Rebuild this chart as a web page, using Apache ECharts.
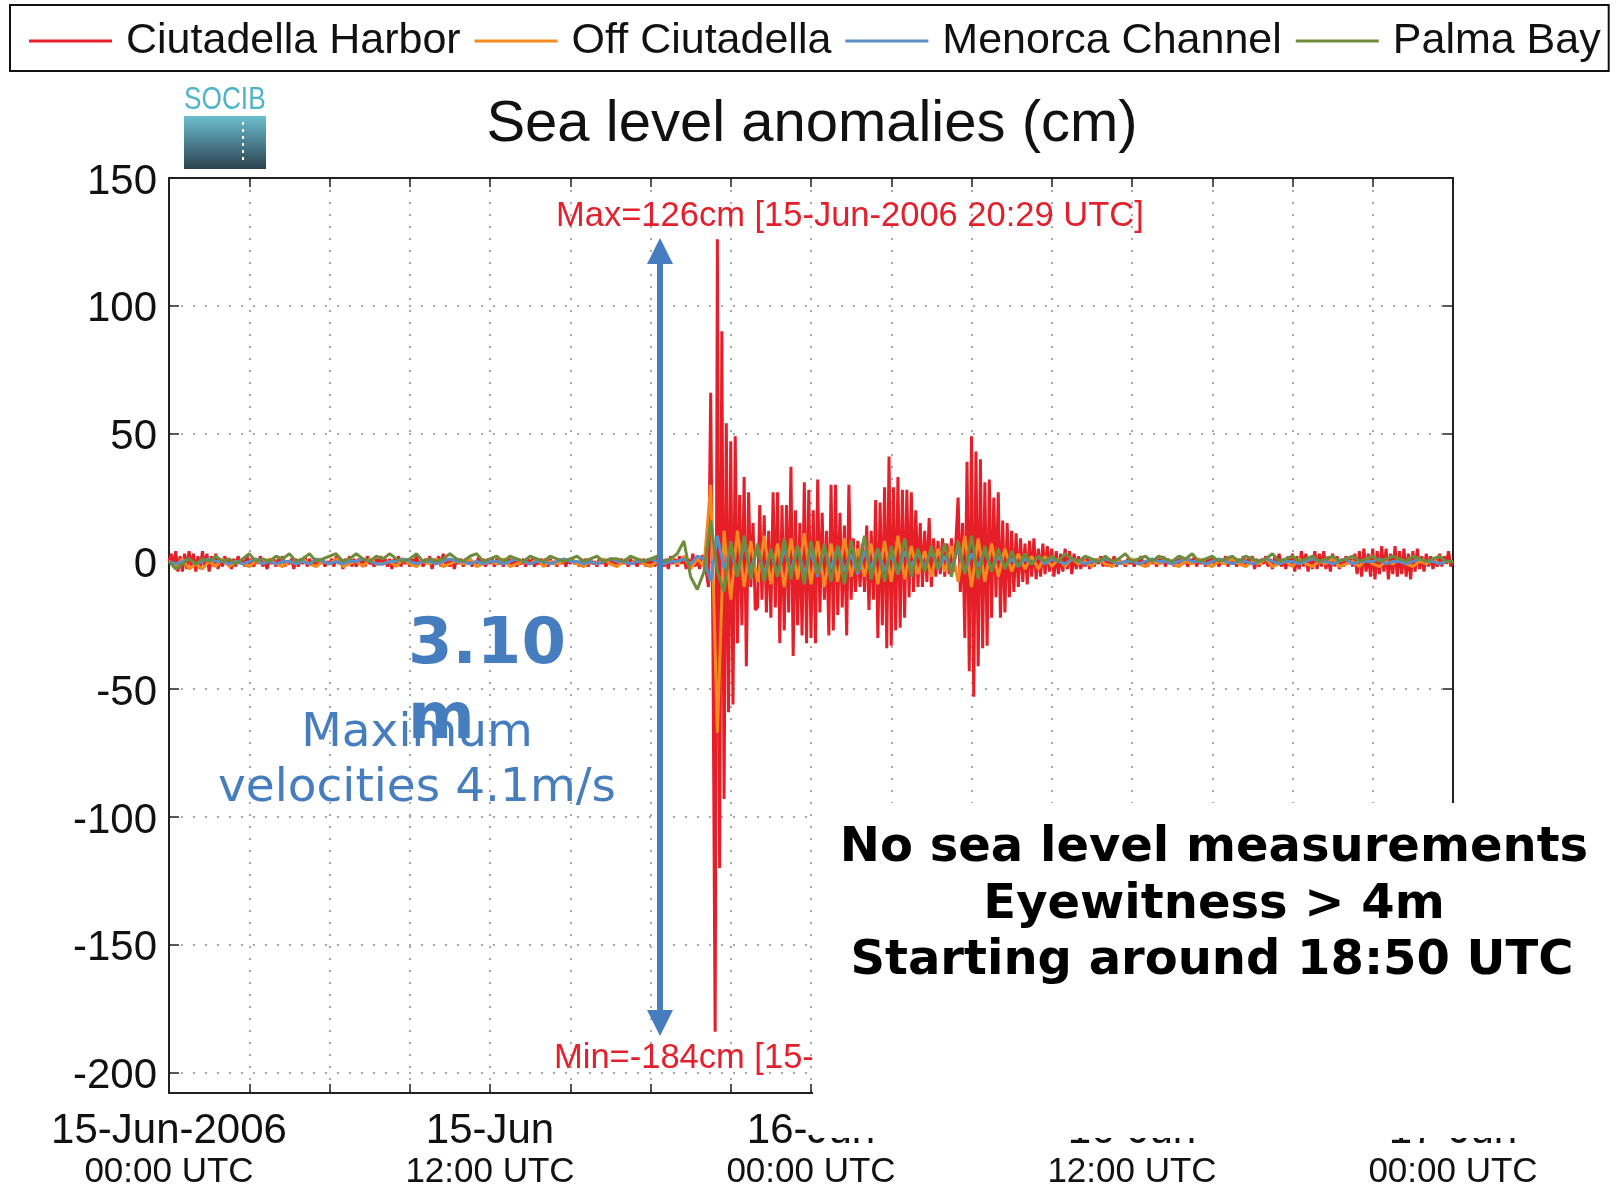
<!DOCTYPE html>
<html>
<head>
<meta charset="utf-8">
<script src="https://cdn.jsdelivr.net/npm/echarts@6/dist/echarts.min.js"></script>
<style>
  html, body { margin: 0; background: #fff; }
  #chart { width: 1624px; height: 1186px; }
</style>
</head>
<body>
<div id="chart"></div>
<script>
// hours since 15-Jun-2006 00:00 UTC
const seriesNames = ["Ciutadella Harbor", "Off Ciutadella", "Menorca Channel", "Palma Bay"];
const seriesColors = ["#e61e28", "#f3891f", "#5b8ec6", "#6e8c3c"];

// Ciutadella Harbor, one value every 5 minutes (cm)
const redStepMin = 5;
const ciutadellaHarbor = [
  0,3,-2,4,-4,2,-4,3,-3,4,-2,3,
  -4,2,-3,4,-2,3,-4,2,-2,3,-3,1,
  -2,2,-1,1,-3,1,-2,2,-1,1,-2,2,
  -1,1,-2,1,-1,2,-2,0,-3,1,-1,1,
  -2,1,-1,2,-2,0,-1,1,-3,1,-2,1,
  -1,2,-2,1,-1,0,-2,1,-1,1,-2,0,
  -1,1,-2,2,-1,1,-3,1,-1,2,-2,1,
  -2,1,-1,1,-2,2,-1,0,-2,1,-1,2,
  -1,1,-2,1,-3,1,-1,2,-2,1,-1,1,
  -2,1,-1,2,-1,0,-2,1,-1,2,-3,1,
  -1,2,-2,3,-1,1,-2,1,-3,1,-1,1,
  -2,1,-1,1,-2,0,-1,2,-1,1,-2,1,
  -1,1,-2,1,-1,0,-2,1,-1,1,-2,1,
  -2,0,-1,1,-2,1,-1,1,-2,0,-1,1,
  -1,1,-2,1,-1,0,-2,1,-1,1,-2,1,
  -1,1,-1,0,-2,1,-1,1,-2,1,-1,0,
  -2,1,-1,1,-2,0,-1,1,-2,1,-1,1,
  -1,1,-2,1,-1,0,-2,1,-1,1,-2,1,
  -1,1,-2,2,-1,1,-2,1,-3,2,-1,1,
  -2,2,-1,2,-3,1,-2,3,-2,1,-3,2,
  2,-4,-10,66,-30,-184,126,-120,90,-93,54,-59,
  47,-56,49,-32,26,-25,33,-41,27,-10,15,-19,
  -18,22,-15,18,-20,12,-22,27,-18,27,-32,22,
  -27,22,-20,37,-37,20,-25,15,-29,31,-32,28,
  -30,20,-32,32,-20,19,-15,12,-29,30,-27,30,
  -21,19,-18,14,-29,30,-15,9,-12,8,-10,7,
  -12,14,-19,12,-15,24,-30,23,-25,29,-34,41,
  -33,29,-27,33,-26,28,-22,28,-14,27,-12,20,
  -10,15,-10,12,-8,17,-10,9,-6,8,-5,9,
  -6,7,-5,9,-4,8,25,-12,15,-30,39,-43,
  49,-53,43,-41,40,-34,31,-33,32,-22,25,-14,
  27,-22,16,-20,15,-14,12,-12,11,-10,9,-8,
  7,-9,8,-6,9,-7,5,-6,7,-5,6,-4,
  5,-6,4,-5,3,-4,5,-3,4,-5,3,-3,
  2,-3,1,-2,2,-3,1,-2,1,-1,2,-2,
  1,-2,1,-1,2,-2,1,-1,0,-2,1,-1,
  1,-2,1,-1,2,-1,0,-2,1,-1,1,-2,
  1,-1,2,-2,1,-1,0,-2,1,-1,2,-1,
  1,-2,1,-1,2,-2,1,-1,1,-2,1,-1,
  2,-1,1,-2,1,-1,2,-2,1,-1,0,-2,
  1,-1,2,-2,1,-1,2,-3,1,-2,1,-1,
  2,-2,1,-3,2,-1,3,-2,1,-3,2,-2,
  3,-4,2,-3,4,-2,3,-4,2,-3,4,-3,
  3,-2,4,-3,2,-4,3,-2,2,-3,1,-2,
  2,-1,1,-2,3,-5,4,-6,5,-4,3,-6,
  5,-7,4,-5,6,-4,5,-7,3,-5,6,-6,
  4,-5,5,-6,3,-7,4,-4,5,-3,2,-4,
  3,-2,2,-3,1,-2,3,-2,2,-1,4,-2,
  0
];

// the other three stations, one value every 15 minutes (cm)
const otherStepMin = 15;
const offCiutadella = [
  0,-2,1,-3,  -1,-3,0,-2,  1,-2,0,-1,  -2,0,-1,1,  -1,-2,0,-1,  1,-1,-2,0,
  -1,1,-2,-1,  0,-2,1,-1,  -1,0,-2,1,  -1,-2,0,-1,  1,-2,-1,0,  -1,1,-2,-1,
  0,-1,1,-2,  -1,0,-1,1,  -2,0,-1,0,  1,-1,-2,0,  -1,1,-1,-2,  0,-1,1,-1,
  -2,0,-1,1,  -1,2,-3,1,  -2,30,-67,12,  -15,12,-10,8,  -8,10,-9,7,  -10,9,-7,11,
  -9,8,-10,7,  -8,9,-6,5,  -6,7,-9,8,  -8,10,-7,6,  -5,4,-6,5,  -4,6,-8,10,
  -10,9,-8,7,  -6,5,-4,3,  -3,2,-3,2,  -2,1,-2,1,  -1,0,-2,1,  -1,-2,0,-1,
  1,-1,-2,0,  -1,1,-1,-2,  0,-1,1,-1,  -2,0,-1,1,  -1,-2,0,-1,  1,-2,-1,0,
  -2,1,-1,-2,  0,-1,1,-2,  -1,0,-2,1,  -1,-2,0,-1,  1,-1,-2,0,  -1,1,-1,0,
  0
];
const menorcaChannel = [
  0,-1,0,1,  -1,0,1,0,  0,-1,0,-1,  0,1,-1,0,  -1,0,0,-1,  0,-1,1,0,
  -1,0,-1,0,  0,1,0,-1,  -1,0,0,1,  0,-1,0,0,  -1,0,1,0,  0,-1,0,-1,
  0,0,-1,0,  1,0,-1,0,  0,-1,0,1,  0,0,-1,0,  -1,0,1,0,  0,-1,0,0,
  1,0,-1,0,  0,1,-1,2,  1,-8,10,-3,  5,-6,7,-4,  6,-5,4,-6,  5,-4,6,-5,
  4,-6,5,-3,  6,-4,3,-5,  4,-3,5,-4,  3,-5,4,-2,  3,-2,4,-3,  2,-3,5,-4,
  3,-2,4,-3,  2,-2,1,-2,  1,-1,2,-1,  1,0,-1,1,  0,-1,0,0,  1,0,-1,0,
  0,-1,0,1,  0,0,-1,0,  1,0,0,-1,  0,1,0,-1,  0,0,-1,0,  1,0,-1,0,
  0,-1,0,1,  0,0,-1,0,  1,-1,0,0,  0,1,-1,0,  0,-1,0,1,  0,0,-1,0,
  0
];
const palmaBay = [
  0,-3,-1,1,  -1,1,0,2,  0,1,-1,1,  3,0,1,0,  2,1,3,0,  1,3,0,1,
  2,3,0,1,  3,1,0,2,  1,3,1,0,  1,3,0,1,  0,1,3,1,  0,2,3,0,
  1,2,0,2,  1,0,2,1,  0,2,1,0,  1,2,0,1,  2,0,1,1,  0,2,1,0,
  1,2,0,1,  3,8,-6,-11,  -4,16,-4,-12,  8,-6,10,-7,  7,-8,5,-6,  9,-7,6,-9,
  8,-5,7,-8,  6,-9,8,-4,  10,-7,5,-8,  6,-5,9,-6,  5,-4,6,-3,  7,-6,8,-5,
  10,-7,6,-4,  5,-3,4,-2,  3,-1,2,0,  2,0,3,1,  0,2,1,0,  2,0,1,3,
  0,1,2,0,  2,1,0,2,  1,3,0,1,  2,0,1,2,  0,2,1,0,  1,3,0,1,
  2,0,1,2,  0,1,2,0,  1,2,0,1,  2,0,1,2,  1,0,2,1,  0,1,2,0,
  0
];

// axis ticks and labels
const xTickStep = 3;
const xLabelHours = [0, 12, 24, 36, 48];
const xLabelDates = ["15-Jun-2006", "15-Jun", "16-Jun", "16-Jun", "17-Jun"];
const xLabelTimes = ["00:00 UTC", "12:00 UTC", "00:00 UTC", "12:00 UTC", "00:00 UTC"];
const yTicks = [-200, -150, -100, -50, 0, 50, 100, 150];

const toPairs = (vals, stepMin) => vals.map((v, i) => [i * stepMin / 60, v]);
const stationData = [
  toPairs(ciutadellaHarbor, redStepMin),
  toPairs(offCiutadella, otherStepMin),
  toPairs(menorcaChannel, otherStepMin),
  toPairs(palmaBay, otherStepMin)
];

const SANS = "Liberation Sans, Arial, Helvetica, sans-serif";
const DEJA = "DejaVu Sans, sans-serif";
const BLUE = "#467dbe";
const RED_TXT = "#e3202c";

const chart = echarts.init(document.getElementById("chart"));

const gridBox = {left: 169, right: 171, top: 178, bottom: 93, containLabel: false, outerBoundsMode: "none"};
const dotted = {color: "#8c8c8c", width: 1.5, type: [2, 10]};
const frameLine = {show: true, onZero: false, lineStyle: {color: "#222", width: 2}};

chart.setOption({
  animation: false,
  backgroundColor: "#fff",
  title: {
    text: "Sea level anomalies (cm)",
    left: "center",
    top: 91,
    textStyle: {fontFamily: SANS, fontSize: 58, fontWeight: "normal", color: "#111"}
  },
  legend: {
    data: seriesNames,
    left: 10,
    top: 5,
    padding: [13, 8, 7, 19],
    borderColor: "#111",
    borderWidth: 2,
    icon: "rect",
    itemWidth: 83,
    itemHeight: 3,
    itemGap: 14,
    selectedMode: false,
    textStyle: {fontFamily: SANS, fontSize: 43, color: "#111", lineHeight: 46, padding: [0, 0, 0, 9]}
  },
  grid: gridBox,
  xAxis: [
    {
      type: "value",
      min: 0, max: 48, interval: xTickStep,
      axisLine: frameLine,
      axisTick: {show: true, inside: true, length: 9, lineStyle: {color: "#222", width: 1.5}},
      splitLine: {show: true, lineStyle: dotted},
      axisLabel: {
        margin: 17,
        formatter: v => {
          const i = xLabelHours.indexOf(v);
          return i < 0 ? "" : "{d|" + xLabelDates[i] + "}\n{t|" + xLabelTimes[i] + "}";
        },
        rich: {
          d: {fontFamily: SANS, fontSize: 42, lineHeight: 42, color: "#111"},
          t: {fontFamily: SANS, fontSize: 35, lineHeight: 40, color: "#111"}
        }
      }
    },
    {
      type: "value", position: "top",
      min: 0, max: 48, interval: xTickStep,
      axisLine: frameLine,
      axisTick: {show: true, inside: true, length: 9, lineStyle: {color: "#222", width: 1.5}},
      splitLine: {show: false},
      axisLabel: {show: false}
    }
  ],
  yAxis: [
    {
      type: "value",
      min: -208, max: 150,
      axisLine: frameLine,
      axisTick: {show: true, inside: false, length: -10, customValues: yTicks, lineStyle: {color: "#222", width: 1.5}},
      splitLine: {show: true, lineStyle: dotted},
      axisLabel: {customValues: yTicks, margin: 12, verticalAlign: "top", lineHeight: 8,
        fontFamily: SANS, fontSize: 42, color: "#111"}
    },
    {
      type: "value", position: "right",
      min: -208, max: 150,
      axisLine: frameLine,
      axisTick: {show: true, inside: false, length: -10, customValues: yTicks, lineStyle: {color: "#222", width: 1.5}},
      splitLine: {show: false},
      axisLabel: {show: false}
    }
  ],
  series: seriesNames.map((name, k) => ({
    name: name,
    type: "line",
    xAxisIndex: 0,
    yAxisIndex: 0,
    data: stationData[k],
    showSymbol: false,
    color: seriesColors[k],
    lineStyle: {width: 3, color: seriesColors[k]},
    z: 2 + k
  })),
  graphic: [
    // SOCIB logo
    {type: "text", x: 184, y: 100, scaleX: 0.82, z: 20,
      style: {text: "SOCIB", font: "32px " + SANS, fill: "#4fb4c8", align: "left", verticalAlign: "middle"}},
    {type: "rect", z: 20, shape: {x: 184, y: 116, width: 82, height: 53},
      style: {fill: new echarts.graphic.LinearGradient(0, 0, 0, 1, [
        {offset: 0, color: "#6cbfcf"}, {offset: 1, color: "#2c4150"}])}},
    {type: "line", z: 21, shape: {x1: 243, y1: 122, x2: 243, y2: 162},
      style: {stroke: "#ffffff", lineWidth: 2, lineDash: [3, 4]}},

    // max / min annotations
    {type: "text", x: 556, y: 216, z: 20,
      style: {text: "Max=126cm [15-Jun-2006 20:29 UTC]", font: "34.5px " + SANS, fill: RED_TXT, align: "left", verticalAlign: "middle"}},
    {type: "text", x: 554, y: 1058, z: 20,
      style: {text: "Min=-184cm [15-Jun-2006 20:25 UTC]", font: "34.5px " + SANS, fill: RED_TXT, align: "left", verticalAlign: "middle"}},

    // double arrow
    {type: "line", z: 30, shape: {x1: 660, y1: 258, x2: 660, y2: 1016},
      style: {stroke: BLUE, lineWidth: 6}},
    {type: "polygon", z: 30, shape: {points: [[660, 238], [647, 264], [673, 264]]}, style: {fill: BLUE}},
    {type: "polygon", z: 30, shape: {points: [[660, 1036], [647, 1010], [673, 1010]]}, style: {fill: BLUE}},

    // blue notes
    {type: "text", x: 417, y: 734, z: 30,
      style: {text: "Maximum", font: "47px " + DEJA, fill: BLUE, align: "center", verticalAlign: "middle"}},
    {type: "text", x: 417, y: 789, z: 30,
      style: {text: "velocities 4.1m/s", font: "47px " + DEJA, fill: BLUE, align: "center", verticalAlign: "middle"}},
    {type: "text", x: 408, y: 646, z: 31,
      style: {text: "3.10", font: "bold 64px " + DEJA, fill: BLUE, align: "left", verticalAlign: "middle"}},
    {type: "text", x: 408, y: 721, z: 31,
      style: {text: "m", font: "bold 64px " + DEJA, fill: BLUE, align: "left", verticalAlign: "middle"}},

    // white panel over the lower right corner
    {type: "rect", z: 50, shape: {x: 813, y: 803, width: 811, height: 335}, style: {fill: "#ffffff"}},
    {type: "text", x: 1214, y: 849, z: 51,
      style: {text: "No sea level measurements", font: "bold 48px " + DEJA, fill: "#000", align: "center", verticalAlign: "middle"}},
    {type: "text", x: 1214, y: 906, z: 51,
      style: {text: "Eyewitness > 4m", font: "bold 48px " + DEJA, fill: "#000", align: "center", verticalAlign: "middle"}},
    {type: "text", x: 1212, y: 962, z: 51,
      style: {text: "Starting around 18:50 UTC", font: "bold 48px " + DEJA, fill: "#000", align: "center", verticalAlign: "middle"}}
  ]
});
</script>
</body>
</html>
